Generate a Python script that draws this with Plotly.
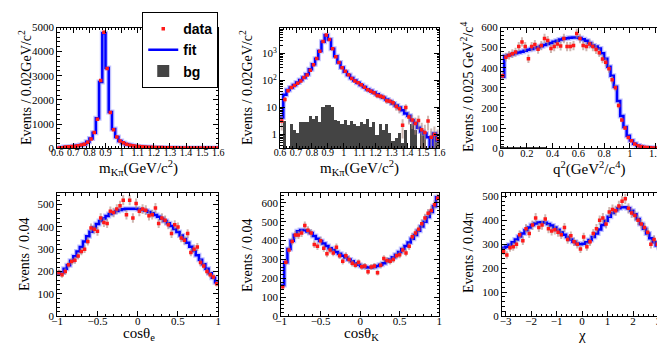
import numpy as np
import plotly.graph_objects as go

W, H = 665, 343

# ---- m(K pi), 0.6 - 1.6 GeV, 0.02 bins ----
mkpi_fit = [4.3, 30, 45, 55, 68, 85, 105, 130, 170, 260,
            400, 640, 1240, 2740, 4760, 3320, 1500, 790, 460, 300,
            210, 160, 125, 100, 82, 68, 57, 48, 42, 36,
            31, 27, 23, 20, 17, 14, 12, 10, 8, 6,
            5, 3.4, 2.7, 1.8, 1.3, 1.1, 0.8, 0.25, 1.1, 0.6]
mkpi_data = [3.2, 20, 42, 55, 65, 80, 95, 130, 160, 240,
             380, 650, 1200, 2800, 4800, 3300, 1480, 760, 460, 295,
             220, 165, 120, 95, 82, 70, 56, 46, 40, 35,
             28, 26, 24, 18, 17, 15, 11, 9, 2.2, 10,
             4.5, 3.5, 2.6, 3.3, 1.5, 1.2, 3.2, 0.8, 1.0, 0.7]
mkpi_bg = [0.1, 3.4, 0.1, 2.5, 1.6, 1.2, 3.0, 3.0, 3.0, 5.0,
           3.8, 5.0, 3.0, 11, 12.5, 12.5, 11, 3.5, 3.2, 2.5,
           3.5, 2.4, 3.4, 2.6, 2.2, 3.0, 2.5, 3.8, 2.0, 3.0,
           1.0, 2.5, 1.5, 2.5, 1.2, 0.6, 0.8, 1.2, 0.5, 1.6,
           0.1, 2.6, 1.6, 0.1, 1.2, 1.0, 0.1, 0.1, 1.1, 0.6]

# ---- q2, 0 - 1.25, 0.025 bins ----
q2_fit = [355, 458, 462, 467, 472, 476, 480, 484, 489, 493,
          498, 502, 507, 513, 518, 523, 529, 534, 540, 544,
          547, 549, 550, 550, 548, 542, 534, 523, 511, 505,
          495, 472, 445, 405, 360, 305, 235, 160, 105, 62,
          38, 22, 13, 8, 5, 3, 2, 1, 0.5, 0.3]
q2_data = [360, 452, 462, 470, 478, 505, 528, 505, 445, 505,
           515, 492, 510, 545, 535, 495, 505, 518, 508, 545,
           505, 505, 510, 570, 545, 510, 505, 518, 505, 491,
           475, 443, 427, 395, 340, 300, 212, 140, 100, 53,
           37, 21, 12, 8, 5, 3, 2, 1, 1, 0.5]
q2_bg = [12, 10, 9, 8, 7, 6, 6, 5, 5, 5,
         4, 4, 4, 4, 3, 3, 3, 3, 3, 3,
         3, 3, 2, 2, 2, 2, 2, 2, 2, 2,
         2, 2, 1, 1, 1, 1, 1, 1, 1, 1,
         0, 0, 0, 0, 0, 0, 0, 0, 0, 0]

# ---- cos(theta_e), 0.04 bins ----
cose_fit = [190, 195, 212, 228, 248, 268, 290, 310, 335, 358,
            378, 397, 413, 426, 438, 449, 458, 465, 471, 476,
            479, 481, 482, 482, 481, 479, 476, 472, 467, 461,
            454, 446, 437, 427, 416, 404, 391, 377, 362, 346,
            329, 311, 292, 273, 253, 233, 212, 192, 172, 152]
cose_data = [195, 185, 200, 230, 245, 250, 270, 290, 300, 335,
             395, 390, 380, 440, 420, 415, 470, 465, 480, 495,
             520, 455, 520, 440, 505, 470, 480, 475, 450, 455,
             485, 415, 440, 430, 410, 370, 410, 400, 350, 340,
             370, 285, 300, 310, 240, 225, 200, 185, 175, 145]

# ---- cos(theta_K), 0.04 bins ----
cosk_fit = [165, 285, 355, 400, 430, 450, 457, 455, 448, 440,
            425, 410, 398, 385, 372, 360, 350, 340, 330, 320,
            310, 300, 290, 280, 272, 265, 260, 258, 258, 260,
            265, 272, 280, 290, 300, 312, 325, 340, 355, 372,
            390, 410, 430, 452, 475, 500, 525, 552, 582, 630]
cosk_data = [155, 285, 350, 395, 430, 430, 440, 480, 455, 440,
             380, 370, 400, 360, 330, 350, 335, 365, 320, 290,
             320, 300, 280, 270, 285, 262, 265, 235, 260, 265,
             230, 270, 305, 295, 290, 300, 320, 325, 350, 335,
             370, 420, 440, 460, 490, 520, 545, 560, 590, 625]

# ---- chi, 0.04 pi bins ----
chi_fit = [285, 290, 298, 308, 320, 332, 345, 358, 370, 380,
           387, 391, 392, 390, 385, 378, 370, 360, 350, 340,
           330, 320, 310, 303, 300, 302, 308, 318, 330, 345,
           362, 380, 398, 415, 430, 442, 450, 455, 455, 450,
           440, 425, 405, 385, 365, 345, 325, 308, 295, 285]
chi_data = [270, 255, 285, 290, 300, 340, 315, 365, 345, 380,
            410, 370, 380, 405, 365, 355, 360, 350, 340, 370,
            320, 335, 310, 300, 280, 330, 290, 310, 345, 365,
            400, 410, 385, 435, 445, 440, 460, 480, 490, 450,
            430, 420, 400, 385, 370, 350, 300, 320, 300, 265]

SERIF = "Liberation Serif"
RED = "#ff1a1a"
ERR = "rgba(175,135,125,0.6)"
BLUE = "#0000ff"


def edges(lo, hi, n):
    return np.linspace(lo, hi, n + 1)


def add_panel(fig, idx, e, fit, data, bg=None, legend=False, bg_legend=False):
    e = np.asarray(e)
    c = 0.5 * (e[:-1] + e[1:])
    w = e[1] - e[0]
    xa, ya = "x%d" % idx, "y%d" % idx
    if bg is not None:
        fig.add_trace(go.Bar(x=c, y=bg, width=w, marker=dict(color="#444444", line=dict(width=0)),
                             name="bg", showlegend=bg_legend, legendrank=3, xaxis=xa, yaxis=ya))
    # light halo of the fit band
    fig.add_trace(go.Scatter(x=list(e), y=list(fit) + [fit[-1]], mode="lines", line_shape="hv",
                             line=dict(color="rgba(120,120,255,0.45)", width=5),
                             showlegend=False, hoverinfo="skip", xaxis=xa, yaxis=ya))
    fig.add_trace(go.Scatter(x=list(e), y=list(fit) + [fit[-1]], mode="lines", line_shape="hv",
                             line=dict(color=BLUE, width=2.5), name="fit",
                             showlegend=legend, legendrank=2, xaxis=xa, yaxis=ya))
    d = np.asarray(data, float)
    fig.add_trace(go.Scatter(x=c, y=d, mode="markers", name="data",
                             marker=dict(color=RED, size=3.5, symbol="square"),
                             error_y=dict(type="data", array=np.sqrt(d), color=ERR, thickness=2, width=0),
                             showlegend=legend, legendrank=1, xaxis=xa, yaxis=ya))


fig = go.Figure()
add_panel(fig, 1, edges(0.6, 1.6, 50), mkpi_fit, mkpi_data, legend=True)
add_panel(fig, 2, edges(0.6, 1.6, 50), mkpi_fit, mkpi_data, bg=mkpi_bg, bg_legend=True)
add_panel(fig, 3, edges(0, 1.25, 50), q2_fit, q2_data, bg=q2_bg)
add_panel(fig, 4, edges(-1, 1, 50), cose_fit, cose_data)
add_panel(fig, 5, edges(-1, 1, 50), cosk_fit, cosk_data)
add_panel(fig, 6, edges(-np.pi, np.pi, 50), chi_fit, chi_data)

# panel boxes in pixels: (left, right, top, bottom)
boxes = {1: (44, 208, 14, 139), 2: (271, 433, 14, 139), 3: (496, 660, 14, 139),
         4: (44, 208, 186, 313), 5: (272, 433, 186, 313), 6: (497, 660, 186, 313)}


def axis(dom, rng, dtick, mdtick, size=11, **kw):
    a = dict(domain=dom, range=rng, dtick=dtick, showline=True, linecolor="black", linewidth=1,
             mirror="allticks", ticks="inside", ticklen=5, tickcolor="black", showgrid=False,
             zeroline=False, tickangle=0, tickfont=dict(family=SERIF, size=size, color="black"),
             minor=dict(ticks="inside", ticklen=2.5, tickcolor="black", dtick=mdtick, showgrid=False))
    a.update(kw)
    return a


xspec = {1: ([0.6, 1.6], 0.1, 0.02, 10), 2: ([0.6, 1.6], 0.1, 0.02, 10), 3: ([0, 1.25], 0.2, 0.05, 10.5),
         4: ([-1, 1], 0.5, 0.1, 11), 5: ([-1, 1], 0.5, 0.1, 11), 6: ([-np.pi, np.pi], 1, 0.2, 11)}
yspec = {1: ([0, 5000], 1000, 200), 3: ([0, 600], 100, 20),
         4: ([0, 550], 100, 20), 5: ([0, 650], 100, 20), 6: ([0, 512], 100, 20)}

lay = {}
for i, (l, r, t, b) in boxes.items():
    xd = [l / W, r / W]
    yd = [1 - b / H, 1 - t / H]
    rng, dt, mdt, fs = xspec[i]
    lay["xaxis%d" % i] = axis(xd, rng, dt, mdt, size=fs, anchor="y%d" % i, tick0=0,
                              ticklabelstandoff=-5)
    if i == 2:
        lay["yaxis2"] = axis(yd, [-0.5, 3.96], None, "D1", type="log", anchor="x2",
                             tickvals=[1, 10, 100, 1000],
                             ticktext=["1", "10", "10<sup>2</sup>", "10<sup>3</sup>"])
        lay["yaxis2"].pop("dtick")
    else:
        rng, dt, mdt = yspec[i]
        lay["yaxis%d" % i] = axis(yd, rng, dt, mdt, anchor="x%d" % i, tick0=0)

ann = []
xt = [("m<sub>Kπ</sub>(GeV/c<sup>2</sup>)", 127, 160), ("m<sub>Kπ</sub>(GeV/c<sup>2</sup>)", 352, 160),
      ("q<sup>2</sup>(GeV<sup>2</sup>/c<sup>4</sup>)", 586, 160),
      ("cosθ<sub>e</sub>", 127, 332), ("cosθ<sub>K</sub>", 354, 332), ("χ", 578, 333)]
yt = [("Events / 0.02GeV/c<sup>2</sup>", 12, 76), ("Events / 0.02GeV/c<sup>2</sup>", 237, 76),
      ("Events / 0.025 GeV<sup>2</sup>/c<sup>4</sup>", 462, 76),
      ("Events / 0.04", 10, 249), ("Events / 0.04", 238, 250), ("Events / 0.04π", 463, 247)]
for s, x, y in xt:
    ann.append(dict(text=s, x=x / W, y=1 - y / H, xref="paper", yref="paper", showarrow=False,
                    xanchor="center", yanchor="middle", font=dict(family=SERIF, size=15, color="black")))
for s, x, y in yt:
    ann.append(dict(text=s, x=x / W, y=1 - y / H, xref="paper", yref="paper", showarrow=False,
                    textangle=-90, xanchor="center", yanchor="middle",
                    font=dict(family=SERIF, size=14, color="black")))

fig.update_layout(width=W, height=H, margin=dict(l=0, r=0, t=0, b=0),
                  paper_bgcolor="white", plot_bgcolor="white", bargap=0,
                  annotations=ann,
                  legend=dict(x=208 / W, y=1 + 2 / H, xanchor="right", yanchor="top",
                              bgcolor="white", bordercolor="black", borderwidth=1,
                              font=dict(family="Liberation Sans", size=14, color="black", weight="bold"),
                              tracegroupgap=0, itemwidth=30),
                  **lay)

fig.write_html("out.html")
